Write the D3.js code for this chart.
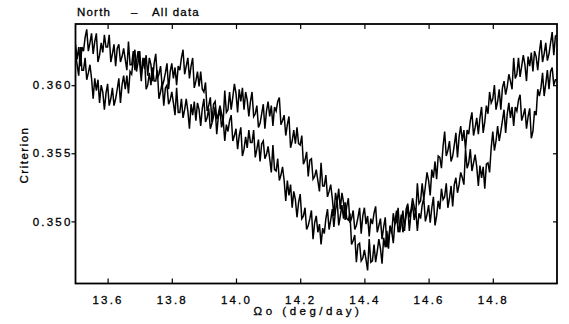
<!DOCTYPE html>
<html><head><meta charset="utf-8">
<script src="https://cdn.jsdelivr.net/npm/d3@7"></script>
<style>
body{margin:0;background:#fff}
text{font-family:"Liberation Sans",Arial,sans-serif;font-size:11.5px;fill:#000;stroke:#000;stroke-width:0.3px}
</style>
</head><body>
<svg id="chart" width="569" height="324"></svg>
<script>
// Omega sampling grid (deg/day)
const omegaStart = 13.5;
const omegaStep = 0.005;
// Criterion values, first pass
const passA = [
0.3630,0.3619,0.3628,0.3614,0.3628, 0.3625,0.3635,0.3641,0.3625,0.3631,
0.3638,0.3623,0.3632,0.3638,0.3617, 0.3622,0.3631,0.3624,0.3637,0.3628,
0.3628,0.3637,0.3617,0.3623,0.3630, 0.3614,0.3627,0.3630,0.3617,0.3621,
0.3627,0.3619,0.3611,0.3632,0.3615, 0.3615,0.3625,0.3611,0.3617,0.3625,
0.3616,0.3603,0.3620,0.3612,0.3622, 0.3607,0.3620,0.3615,0.3603,0.3616,
0.3623,0.3605,0.3608,0.3614,0.3599, 0.3603,0.3609,0.3616,0.3597,0.3610,
0.3616,0.3605,0.3613,0.3600,0.3614, 0.3611,0.3620,0.3626,0.3608,0.3614,
0.3620,0.3605,0.3614,0.3620,0.3598, 0.3603,0.3610,0.3599,0.3610,0.3597,
0.3595,0.3602,0.3581,0.3585,0.3591, 0.3573,0.3586,0.3588,0.3575,0.3579,
0.3585,0.3579,0.3573,0.3596,0.3580, 0.3582,0.3595,0.3582,0.3591,0.3601,
0.3594,0.3580,0.3597,0.3588,0.3598, 0.3582,0.3595,0.3589,0.3577,0.3588,
0.3595,0.3577,0.3579,0.3585,0.3569, 0.3572,0.3579,0.3586,0.3568,0.3581,
0.3588,0.3577,0.3585,0.3570,0.3584, 0.3581,0.3588,0.3591,0.3571,0.3574,
0.3578,0.3563,0.3571,0.3577,0.3554, 0.3559,0.3567,0.3557,0.3569,0.3557,
0.3556,0.3563,0.3542,0.3545,0.3551, 0.3533,0.3545,0.3546,0.3531,0.3533,
0.3538,0.3530,0.3522,0.3543,0.3526, 0.3526,0.3534,0.3518,0.3522,0.3527,
0.3517,0.3504,0.3521,0.3514,0.3524, 0.3509,0.3521,0.3514,0.3501,0.3511,
0.3517,0.3499,0.3502,0.3508,0.3494, 0.3497,0.3503,0.3510,0.3491,0.3504,
0.3510,0.3498,0.3504,0.3489,0.3502, 0.3498,0.3506,0.3511,0.3492,0.3497,
0.3502,0.3487,0.3496,0.3503,0.3481, 0.3486,0.3497,0.3491,0.3506,0.3498,
0.3500,0.3510,0.3492,0.3499,0.3508, 0.3493,0.3509,0.3513,0.3503,0.3508,
0.3517,0.3511,0.3505,0.3528,0.3513, 0.3515,0.3528,0.3516,0.3526,0.3536,
0.3530,0.3519,0.3538,0.3532,0.3544, 0.3531,0.3548,0.3547,0.3539,0.3555,
0.3566,0.3548,0.3552,0.3559,0.3544, 0.3548,0.3556,0.3565,0.3547,0.3562,
0.3570,0.3559,0.3567,0.3553,0.3567, 0.3564,0.3574,0.3580,0.3563,0.3569,
0.3576,0.3564,0.3576,0.3584,0.3565, 0.3573,0.3585,0.3579,0.3595,0.3587,
0.3590,0.3600,0.3582,0.3588,0.3597, 0.3582,0.3598,0.3603,0.3593,0.3599,
0.3608,0.3603,0.3597,0.3620,0.3605, 0.3608,0.3620,0.3606,0.3614,0.3622,
0.3615,0.3603,0.3621,0.3614,0.3624, 0.3610,0.3625,0.3621,0.3611,0.3624,
0.3633,0.3617,0.3623,0.3631,0.3618, 0.3623,0.3631,0.3639,0.3622,0.3636,
0.3637
];
// Criterion values, second pass
const passB = [
0.3623,0.3615,0.3607,0.3628,0.3611, 0.3611,0.3620,0.3604,0.3609,0.3615,
0.3605,0.3590,0.3605,0.3596,0.3604, 0.3587,0.3600,0.3595,0.3582,0.3594,
0.3601,0.3585,0.3590,0.3598,0.3585, 0.3590,0.3597,0.3605,0.3587,0.3600,
0.3607,0.3597,0.3607,0.3594,0.3610, 0.3608,0.3619,0.3626,0.3610,0.3617,
0.3625,0.3608,0.3616,0.3620,0.3597, 0.3600,0.3609,0.3600,0.3613,0.3603,
0.3603,0.3611,0.3590,0.3595,0.3602, 0.3585,0.3598,0.3600,0.3586,0.3589,
0.3595,0.3587,0.3578,0.3598,0.3580, 0.3580,0.3590,0.3576,0.3582,0.3590,
0.3581,0.3568,0.3586,0.3578,0.3588, 0.3574,0.3587,0.3582,0.3570,0.3583,
0.3590,0.3573,0.3576,0.3583,0.3568, 0.3572,0.3577,0.3584,0.3564,0.3577,
0.3582,0.3569,0.3575,0.3559,0.3571, 0.3566,0.3574,0.3578,0.3559,0.3563,
0.3568,0.3553,0.3563,0.3569,0.3548, 0.3553,0.3562,0.3554,0.3567,0.3558,
0.3558,0.3567,0.3547,0.3553,0.3560, 0.3544,0.3557,0.3559,0.3546,0.3549,
0.3555,0.3546,0.3536,0.3556,0.3538, 0.3537,0.3546,0.3530,0.3534,0.3540,
0.3530,0.3515,0.3530,0.3519,0.3527, 0.3510,0.3522,0.3516,0.3503,0.3514,
0.3520,0.3502,0.3504,0.3510,0.3494, 0.3497,0.3502,0.3508,0.3487,0.3499,
0.3504,0.3492,0.3498,0.3483,0.3495, 0.3491,0.3502,0.3509,0.3494,0.3501,
0.3509,0.3496,0.3508,0.3516,0.3497, 0.3504,0.3512,0.3502,0.3514,0.3502,
0.3501,0.3506,0.3483,0.3486,0.3490, 0.3470,0.3483,0.3484,0.3471,0.3473,
0.3479,0.3472,0.3464,0.3487,0.3470, 0.3471,0.3483,0.3470,0.3478,0.3487,
0.3480,0.3469,0.3488,0.3481,0.3493, 0.3480,0.3496,0.3493,0.3484,0.3499,
0.3508,0.3492,0.3497,0.3505,0.3492, 0.3497,0.3504,0.3511,0.3493,0.3506,
0.3513,0.3501,0.3508,0.3493,0.3506, 0.3502,0.3512,0.3517,0.3500,0.3505,
0.3512,0.3499,0.3510,0.3518,0.3497, 0.3504,0.3515,0.3509,0.3524,0.3516,
0.3518,0.3528,0.3510,0.3517,0.3526, 0.3511,0.3527,0.3532,0.3521,0.3527,
0.3536,0.3532,0.3527,0.3553,0.3539, 0.3543,0.3553,0.3537,0.3543,0.3549,
0.3540,0.3526,0.3541,0.3532,0.3540, 0.3524,0.3542,0.3543,0.3536,0.3554,
0.3566,0.3552,0.3559,0.3570,0.3559, 0.3566,0.3574,0.3582,0.3565,0.3579,
0.3587,0.3576,0.3584,0.3570,0.3584, 0.3581,0.3589,0.3593,0.3574,0.3578,
0.3583,0.3568,0.3577,0.3583,0.3561, 0.3566,0.3581,0.3578,0.3597,0.3592,
0.3598,0.3609,0.3592,0.3601,0.3611, 0.3597,0.3610,0.3613,0.3600,0.3604,
0.3604
];
const xTicks = [13.6, 13.8, 14.0, 14.2, 14.4, 14.6, 14.8];
const yTicks = [0.350, 0.355, 0.360];
const xDomain = [13.5, 15.0];
const yDomain = [0.34544, 0.36449];
const titleParts = ["North", "\u2013", "All data"];
const xTitle = "\u03A9o (deg/day)";
const yTitle = "Criterion";

const svg = d3.select("#chart");
const L = 75.5, T = 24, R = 557, B = 283.5;
const x = d3.scaleLinear().domain(xDomain).range([L, R]);
const y = d3.scaleLinear().domain(yDomain).range([B, T]);

svg.append("defs").append("clipPath").attr("id", "clip")
  .append("rect").attr("x", L).attr("y", T).attr("width", R - L).attr("height", B - T);

const line = d3.line()
  .x((d, i) => x(omegaStart + i * omegaStep))
  .y(d => y(d));

const g = svg.append("g").attr("clip-path", "url(#clip)");
[passA, passB].forEach(s => {
  g.append("path").datum(s).attr("d", line)
    .attr("fill", "none").attr("stroke", "#000").attr("stroke-width", 1.5)
    .attr("stroke-linejoin", "miter");
});

// axes
const fmt2 = d3.format(".1f"), fmt3 = d3.format(".3f");
const ax = svg.append("g").attr("transform", `translate(0,${B})`)
  .call(d3.axisBottom(x).tickValues(xTicks).tickFormat(fmt2).tickSizeInner(-5).tickSizeOuter(0).tickPadding(12));
const axTop = svg.append("g").attr("transform", `translate(0,${T})`)
  .call(d3.axisTop(x).tickValues(xTicks).tickFormat("").tickSizeInner(-5).tickSizeOuter(0));
const ay = svg.append("g").attr("transform", `translate(${L},0)`)
  .call(d3.axisLeft(y).tickValues(yTicks).tickFormat(fmt3).tickSizeInner(4).tickSizeOuter(0).tickPadding(0));
const ayR = svg.append("g").attr("transform", `translate(${R},0)`)
  .call(d3.axisRight(y).tickValues(yTicks).tickFormat("").tickSizeInner(-4).tickSizeOuter(0));
[ax, axTop, ay, ayR].forEach(a => {
  a.select(".domain").remove();
  a.selectAll("line").attr("stroke", "#000").attr("stroke-width", 1.2);
  a.selectAll("text").attr("font-family", null).attr("font-size", null)
    .style("letter-spacing", "2.2px");
});
ay.selectAll("text").attr("x", -3);

svg.append("rect").attr("x", L).attr("y", T).attr("width", R - L).attr("height", B - T)
  .attr("fill", "none").attr("stroke", "#000").attr("stroke-width", 1.8);

// titles
const tt = svg.append("text").attr("y", 16).style("letter-spacing", "1.2px");
const titleX = [77, 131, 152];
titleParts.forEach((p, i) => tt.append("tspan").attr("x", titleX[i]).text(p));

svg.append("text").attr("x", 308).attr("y", 315).attr("text-anchor", "middle")
  .style("letter-spacing", "3.5px").text(xTitle);
svg.append("text").attr("transform", "translate(28,155) rotate(-90)")
  .attr("text-anchor", "middle").style("letter-spacing", "1.5px").text(yTitle);
</script>
</body></html>
